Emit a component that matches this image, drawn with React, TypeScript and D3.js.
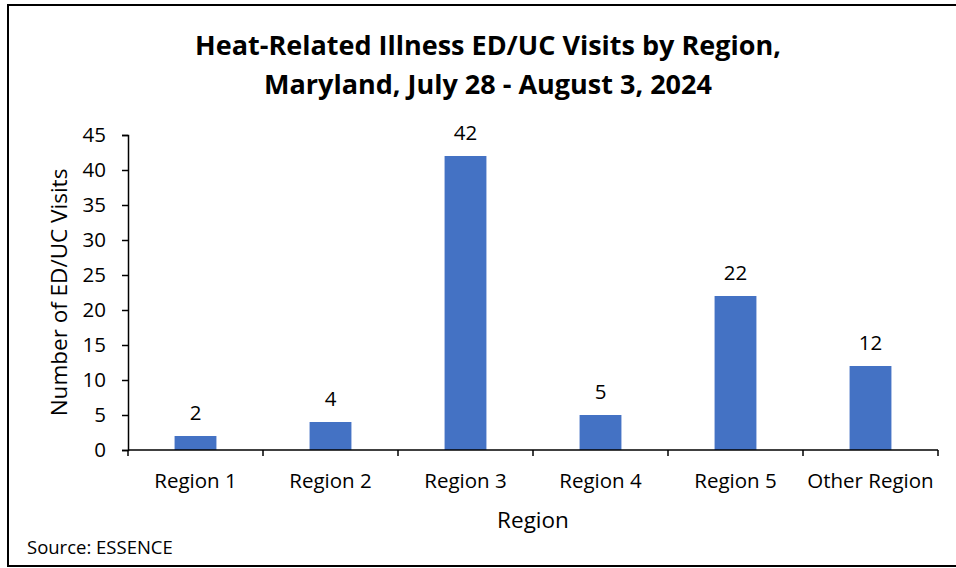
import React, { useEffect, useRef } from 'react';
import * as d3 from 'd3';

// chart values
const regions = ['Region 1', 'Region 2', 'Region 3', 'Region 4', 'Region 5', 'Other Region'];
const visits = [2, 4, 42, 5, 22, 12];
const yTicks = [0, 5, 10, 15, 20, 25, 30, 35, 40, 45];
const titleLines = ['Heat-Related Illness ED/UC Visits by Region,', 'Maryland, July 28 - August 3, 2024'];

const W = 956;
const H = 568;
const FONT = '"Open Sans", Lato, sans-serif';

const App = () => {
  const svgRef = useRef<SVGSVGElement>(null);

  useEffect(() => {
    const svg = d3.select(svgRef.current);
    svg.selectAll('*').remove();

    const margin = { top: 135, left: 128, right: 18, bottom: 118 };
    const plotW = W - margin.left - margin.right;
    const plotH = H - margin.top - margin.bottom;

    // white background + frame
    svg.append('rect').attr('width', W).attr('height', H).attr('fill', '#fff');
    svg
      .append('rect')
      .attr('x', 8)
      .attr('y', 5)
      .attr('width', W + 10)
      .attr('height', 561)
      .attr('fill', 'none')
      .attr('stroke', '#000')
      .attr('stroke-width', 2);

    const x = d3.scaleBand().domain(regions).range([0, plotW]).paddingInner(0.69).paddingOuter(0.345);
    const xCat = d3.scaleBand().domain(regions).range([0, plotW]);
    const y = d3.scaleLinear().domain([0, 45]).range([plotH, 0]);

    const g = svg.append('g').attr('transform', `translate(${margin.left},${margin.top})`);

    // bars
    g.selectAll('.bar')
      .data(visits)
      .enter()
      .append('rect')
      .attr('x', (d, i) => x(regions[i]))
      .attr('y', (d) => y(d))
      .attr('width', x.bandwidth())
      .attr('height', (d) => plotH - y(d))
      .attr('fill', '#4472C4');

    // value labels
    g.selectAll('.lbl')
      .data(visits)
      .enter()
      .append('text')
      .attr('x', (d, i) => x(regions[i]) + x.bandwidth() / 2)
      .attr('y', (d) => y(d) - 16)
      .attr('text-anchor', 'middle')
      .attr('font-family', FONT)
      .attr('font-size', 20.5)
      .attr('fill', '#000')
      .text((d) => d);

    // y axis
    const yAxis = g
      .append('g')
      .call(d3.axisLeft(y).tickValues(yTicks).tickSize(6).tickSizeOuter(6).tickPadding(16));
    yAxis.selectAll('path, line').attr('stroke', '#000').attr('stroke-width', 1.5);
    yAxis.selectAll('text').attr('font-family', FONT).attr('font-size', 20.5).attr('fill', '#000');

    // x axis with ticks at category boundaries
    const xAxis = g.append('g').attr('transform', `translate(0,${plotH})`);
    xAxis
      .append('line')
      .attr('x1', 0)
      .attr('x2', plotW)
      .attr('stroke', '#000')
      .attr('stroke-width', 1.5);
    const bounds = regions.map((r) => xCat(r)).concat([plotW]);
    xAxis
      .selectAll('.tick')
      .data(bounds)
      .enter()
      .append('line')
      .attr('x1', (d) => d)
      .attr('x2', (d) => d)
      .attr('y1', 0)
      .attr('y2', 6)
      .attr('stroke', '#000')
      .attr('stroke-width', 1.5);
    xAxis
      .selectAll('.xl')
      .data(regions)
      .enter()
      .append('text')
      .attr('x', (d) => xCat(d) + xCat.bandwidth() / 2)
      .attr('y', 38)
      .attr('text-anchor', 'middle')
      .attr('font-family', FONT)
      .attr('font-size', 20.5)
      .attr('fill', '#000')
      .text((d) => d);

    // axis titles
    svg
      .append('text')
      .attr('x', margin.left + plotW / 2)
      .attr('y', 528)
      .attr('text-anchor', 'middle')
      .attr('font-family', FONT)
      .attr('font-size', 22.5)
      .text('Region');
    svg
      .append('text')
      .attr('transform', `translate(67,${margin.top + plotH / 2}) rotate(-90)`)
      .attr('text-anchor', 'middle')
      .attr('font-family', FONT)
      .attr('font-size', 22.5)
      .text('Number of ED/UC Visits');

    // title
    svg
      .append('text')
      .attr('x', 488)
      .attr('y', 55)
      .attr('text-anchor', 'middle')
      .attr('font-family', FONT)
      .attr('font-weight', 'bold')
      .attr('font-size', 27)
      .selectAll('tspan')
      .data(titleLines)
      .enter()
      .append('tspan')
      .attr('x', 488)
      .attr('dy', (d, i) => (i === 0 ? 0 : 39))
      .text((d) => d);

    // source note
    svg
      .append('text')
      .attr('x', 27)
      .attr('y', 554)
      .attr('font-family', FONT)
      .attr('font-size', 18.5)
      .text('Source: ESSENCE');
  }, []);

  return (
    <svg
      ref={svgRef}
      width={W}
      height={H}
      style={{ position: 'absolute', left: 0, top: 0 }}
    ></svg>
  );
};

export default App;
